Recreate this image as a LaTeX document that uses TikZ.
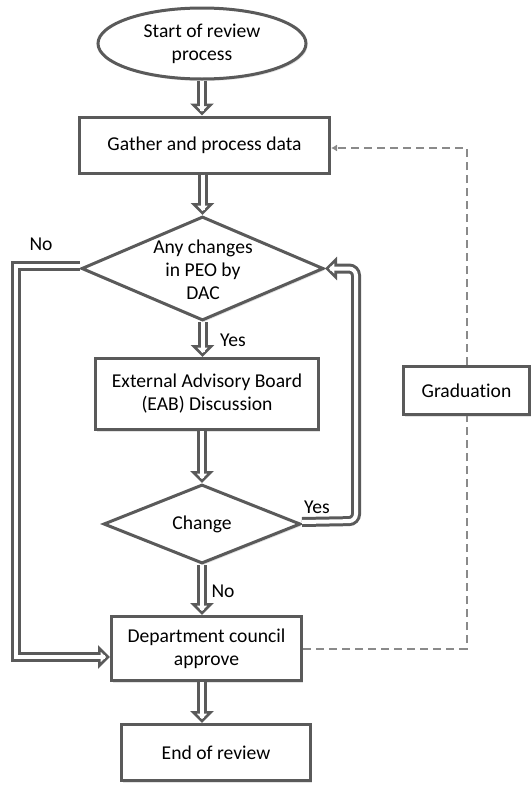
\documentclass[tikz,border=0pt]{standalone}
\usepackage{fontspec}
\setmainfont{Carlito}[Ligatures=NoCommon]
\usetikzlibrary{shapes.geometric, arrows.meta, shadows}
\definecolor{lc}{HTML}{5A5A5A}
\definecolor{dc}{HTML}{8A8A8A}
\begin{document}
\begin{tikzpicture}[x=1pt, y=-1pt,
  font=\fontsize{19.6}{23}\selectfont,
  box/.style={draw=lc, line width=3pt, fill=white, inner sep=0pt, align=center,
    drop shadow={opacity=0.22, shadow xshift=1.5pt, shadow yshift=-2pt}},
  dia/.style={box, diamond, aspect=2},
  blk/.style={
    preaction={draw=lc, line width=10pt, shorten >=8pt},
    preaction={draw=lc, line width=2.6pt, -{Triangle[fill=white, length=12pt, width=23pt]}},
    postaction={draw=white, line width=4pt, shorten >=5pt}},
  dsh/.style={draw=dc, line width=2pt, dash pattern=on 8pt off 5pt},
  lbl/.style={inner sep=0pt, align=center}]
\useasboundingbox (0,0) rectangle (532,785);
% nodes
\node[box, ellipse, minimum width=208pt, minimum height=71pt] (ell) at (202,43.5) {Start of review\\process};
\node[box, minimum width=250pt, minimum height=56pt] (gather) at (204.5,145) {Gather and process data};
\node[dia, minimum width=242pt, minimum height=104pt] (d1) at (202.5,268.5) {};
\node[lbl] (d1t) at (203,270) {Any changes\\in PEO by\\DAC};
\node[box, minimum width=223pt, minimum height=71pt] (eab) at (207,394) {External Advisory Board\\(EAB) Discussion};
\node[dia, minimum width=197pt, minimum height=79pt] (ch) at (202,524) {};
\node[lbl] (cht) at (202,524) {Change};
\node[box, minimum width=190pt, minimum height=64pt] (dept) at (206.5,648.5) {Department council\\approve};
\node[box, minimum width=189pt, minimum height=56pt] (endr) at (216,752.5) {End of review};
\node[box, minimum width=126pt, minimum height=48pt] (grad) at (466.5,390.5) {Graduation};
% labels
\node[lbl] (no1) at (41,244) {No};
\node[lbl] (yes1) at (233,340) {Yes};
\node[lbl] (yes2) at (317,507) {Yes};
\node[lbl] (no2) at (223,591) {No};
% block arrows
\path[blk] (ell.south) -- (ell.south |- gather.north);
\path[blk] (d1.north |- gather.south) -- (d1.north);
\path[blk] (d1.south) -- (d1.south |- eab.north);
\path[blk] (ch.north |- eab.south) -- (ch.north);
\path[blk] (ch.south) -- (ch.south |- dept.north);
\path[blk] (ch.south |- dept.south) -- (ch.south |- endr.north);
\coordinate (nl) at (16,265.5);
\path[blk] ([yshift=3pt]d1.west) -- (nl) |- ([yshift=-8.5pt]dept.west);
\coordinate (yl) at (356,521);
\path[blk, rounded corners=7pt] ([yshift=2pt]ch.east) -- (yl) |- (d1.east);
% dashed feedback
\draw[dsh, -{Latex[length=6pt, width=7pt]}] (grad.north) |- ([yshift=-3pt]gather.east);
\draw[dsh] (dept.east) -| (grad.south);
\end{tikzpicture}
\end{document}
